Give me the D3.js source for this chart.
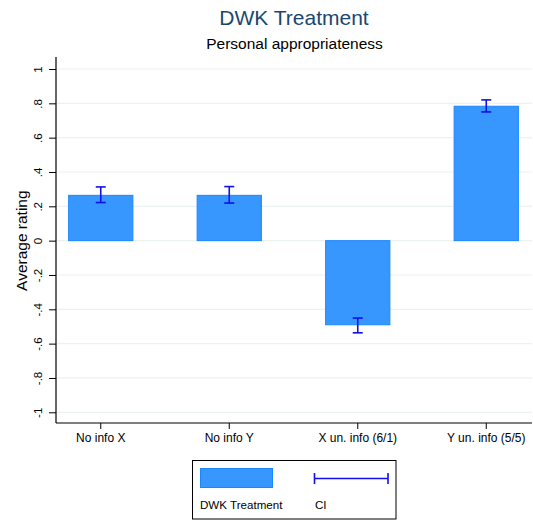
<!DOCTYPE html>
<html>
<head>
<meta charset="utf-8">
<script src="https://cdn.jsdelivr.net/npm/d3@7"></script>
<style>
  html, body { margin: 0; padding: 0; background: #fff; }
  svg { display: block; font-family: Arial, "Liberation Sans", sans-serif; }
</style>
</head>
<body>
<svg id="chart" width="533" height="520"></svg>
<script>
// Mean rating by information condition, with confidence intervals
const categories = ["No info X", "No info Y", "X un. info (6/1)", "Y un. info (5/5)"];
const means = [0.264, 0.264, -0.49, 0.783];
const ciLow = [0.222, 0.219, -0.537, 0.75];
const ciHigh = [0.313, 0.315, -0.451, 0.82];
const yTicks = [-1, -0.8, -0.6, -0.4, -0.2, 0, 0.2, 0.4, 0.6, 0.8, 1];
const yTickLabels = ["-1", "-.8", "-.6", "-.4", "-.2", "0", ".2", ".4", ".6", ".8", "1"];

const svg = d3.select("#chart");
const plot = { left: 56, right: 532, top: 57, bottom: 423 };

const x = d3.scaleBand()
  .domain(categories)
  .range([36.5, 550.5])
  .paddingInner(0.5)
  .paddingOuter(0.25);

const y = d3.scaleLinear().domain([-1, 1]).range([412.3, 69]);

// Horizontal grid
svg.append("g").selectAll("line").data(yTicks).join("line")
  .attr("x1", plot.left + 1).attr("x2", plot.right)
  .attr("y1", d => y(d)).attr("y2", d => y(d))
  .attr("stroke", "#eaf2f3").attr("stroke-width", 1.2);

// Bars
svg.append("g").selectAll("rect").data(means).join("rect")
  .attr("x", (d, i) => x(categories[i]))
  .attr("width", x.bandwidth())
  .attr("y", d => y(Math.max(0, d)))
  .attr("height", d => Math.abs(y(d) - y(0)))
  .attr("fill", "#3897ff")
  .attr("stroke", "#1a87ff")
  .attr("stroke-width", 1);

// Confidence intervals
const ci = svg.append("g").attr("stroke", "#1010e8").attr("stroke-width", 1.6);
categories.forEach((c, i) => {
  const cx = x(c) + x.bandwidth() / 2;
  ci.append("line").attr("x1", cx).attr("x2", cx).attr("y1", y(ciLow[i])).attr("y2", y(ciHigh[i]));
  ci.append("line").attr("x1", cx - 5).attr("x2", cx + 5).attr("y1", y(ciLow[i])).attr("y2", y(ciLow[i]));
  ci.append("line").attr("x1", cx - 5).attr("x2", cx + 5).attr("y1", y(ciHigh[i])).attr("y2", y(ciHigh[i]));
});

// Y axis
const yAxis = d3.axisLeft(y)
  .tickValues(yTicks)
  .tickFormat((d, i) => yTickLabels[i])
  .tickSize(7)
  .tickSizeOuter(0);
const yg = svg.append("g").attr("transform", `translate(${plot.left},0)`).call(yAxis);
yg.select(".domain").attr("d", `M0,${plot.top}V${plot.bottom}`).attr("stroke", "#000").attr("stroke-width", 1.2);
yg.selectAll(".tick line").attr("stroke", "#000");
yg.selectAll(".tick text")
  .attr("font-size", 11.5).attr("fill", "#000")
  .attr("transform", "rotate(-90)")
  .attr("x", 0).attr("y", -14)
  .attr("dy", "0")
  .attr("text-anchor", "middle");

// X axis
const xAxis = d3.axisBottom(x).tickSize(6).tickSizeOuter(0);
const xg = svg.append("g").attr("transform", `translate(0,${plot.bottom})`).call(xAxis);
xg.select(".domain").attr("d", `M${plot.left},0H${plot.right}`).attr("stroke", "#000").attr("stroke-width", 1.2);
xg.selectAll(".tick line").attr("stroke", "#000");
xg.selectAll(".tick text").attr("font-size", 12).attr("fill", "#000").attr("y", 10).attr("dy", "0.71em");

// Axis title
svg.append("text")
  .attr("transform", `translate(27,${y(0)}) rotate(-90)`)
  .attr("text-anchor", "middle")
  .attr("font-size", 15.5)
  .attr("fill", "#000")
  .text("Average rating");

// Titles
svg.append("text").attr("x", 294).attr("y", 25).attr("text-anchor", "middle")
  .attr("font-size", 21).attr("fill", "#1a476f").text("DWK Treatment");
svg.append("text").attr("x", 294.5).attr("y", 49).attr("text-anchor", "middle")
  .attr("font-size", 15.5).attr("fill", "#000").text("Personal appropriateness");

// Legend
const lg = svg.append("g");
lg.append("rect").attr("x", 192.5).attr("y", 460.5).attr("width", 203.5).attr("height", 58.5)
  .attr("fill", "#fff").attr("stroke", "#000").attr("stroke-width", 1);
lg.append("rect").attr("x", 200.5).attr("y", 468.5).attr("width", 72).attr("height", 19)
  .attr("fill", "#3897ff").attr("stroke", "#1a87ff");
lg.append("line").attr("x1", 314.5).attr("x2", 388).attr("y1", 478.5).attr("y2", 478.5)
  .attr("stroke", "#1010e8").attr("stroke-width", 1.6);
[314.5, 388].forEach(px => lg.append("line").attr("x1", px).attr("x2", px).attr("y1", 473).attr("y2", 484)
  .attr("stroke", "#1010e8").attr("stroke-width", 1.6));
lg.append("text").attr("x", 200).attr("y", 509).attr("font-size", 11.6).attr("fill", "#000").text("DWK Treatment");
lg.append("text").attr("x", 315).attr("y", 509).attr("font-size", 11.6).attr("fill", "#000").text("CI");
</script>
</body>
</html>
